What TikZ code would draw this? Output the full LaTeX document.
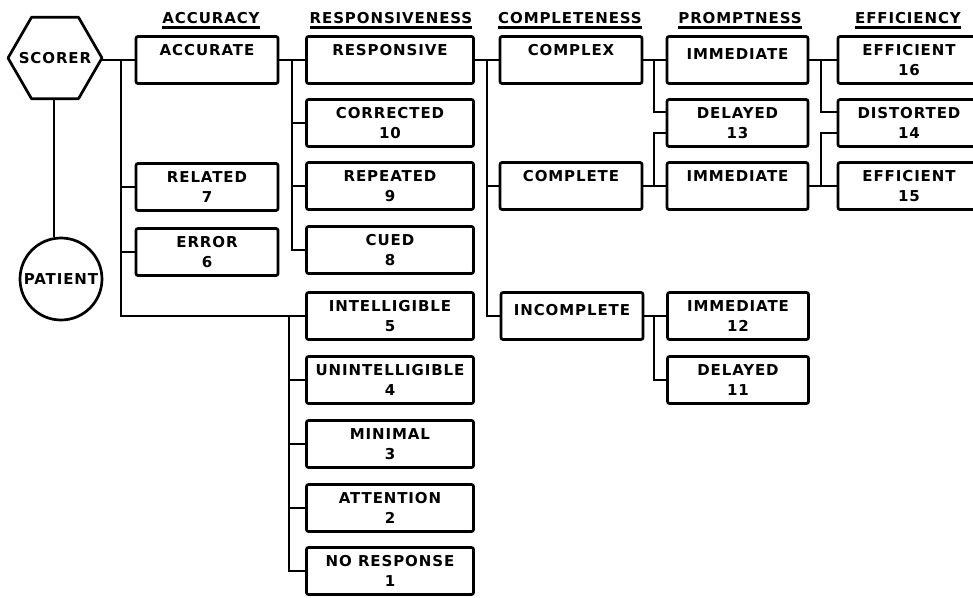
\documentclass[tikz,border=0pt]{standalone}
\usepackage{fontspec}
\newfontfamily\lbl{DejaVu Sans}[LetterSpace=6]
\begin{document}
\begin{tikzpicture}[x=1pt,y=-1pt,
  lblfont/.style={font=\lbl\bfseries\fontsize{15}{20}\selectfont},
  bx/.style={draw, line width=2.7pt, rounded corners=2pt, minimum height=47pt,
    inner sep=0pt, align=center, lblfont},
  bA/.style={bx, minimum width=142pt},
  bR/.style={bx, minimum width=167pt},
  bC/.style={bx, minimum width=142pt},
  bP/.style={bx, minimum width=141pt},
  bE/.style={bx, minimum width=142pt},
  wire/.style={line width=2.3pt},
  hd/.style={lblfont, inner sep=0pt, anchor=base},
  uline/.style={line width=2.4pt},
  outline/.style={line width=2.7pt, line join=round}
]
\useasboundingbox (0,0) rectangle (973,597);

% headers
\node[hd] (hacc) at (211,23) {ACCURACY};
\node[hd] (hres) at (391,23) {RESPONSIVENESS};
\node[hd] (hcom) at (570,23) {COMPLETENESS};
\node[hd] (hpro) at (740,23) {PROMPTNESS};
\node[hd] (heff) at (908,23) {EFFICIENCY};
\foreach \h in {hacc,hres,hcom,hpro,heff}
  \draw[uline] ([yshift=-4.5pt]\h.base west) -- ([yshift=-4.5pt]\h.base east);

% scorer (hexagon) and patient (circle)
\node[lblfont, inner sep=0pt] (scorer) at (55,58) {SCORER};
\draw[outline] ([shift={(-47,0)}]scorer.center) -- ([shift={(-23.5,-40.7)}]scorer.center)
  -- ([shift={(23.5,-40.7)}]scorer.center) -- ([shift={(47,0)}]scorer.center)
  -- ([shift={(23.5,40.7)}]scorer.center) -- ([shift={(-23.5,40.7)}]scorer.center) -- cycle;
\coordinate (sE) at ([shift={(47,0)}]scorer.center);
\coordinate (sS) at ([shift={(-1,40.7)}]scorer.center);
\node[draw, circle, minimum size=82pt, inner sep=0pt, line width=2.7pt,
  lblfont] (pat) at (61,279) {PATIENT};

% accuracy
\node[bA] (acc) at (207,60) {ACCURATE\\\phantom{1}};
\node[bA] (rel) at (207,187) {RELATED\\7};
\node[bA] (err) at (207,252) {ERROR\\6};

% responsiveness
\node[bR] (resp)  at (390,60)  {RESPONSIVE\\\phantom{1}};
\node[bR] (corr)  at (390,123) {CORRECTED\\10};
\node[bR] (rep)   at (390,186) {REPEATED\\9};
\node[bR] (cued)  at (390,250) {CUED\\8};
\node[bR] (intel) at (390,316) {INTELLIGIBLE\\5};
\node[bR] (unint) at (390,380) {UNINTELLIGIBLE\\4};
\node[bR] (mini)  at (390,444) {MINIMAL\\3};
\node[bR] (att)   at (390,508) {ATTENTION\\2};
\node[bR] (nores) at (390,571) {NO RESPONSE\\1};

% completeness
\node[bC] (cplx) at (571,60)  {COMPLEX\\\phantom{1}};
\node[bC] (cplt) at (571,186) {COMPLETE\\\phantom{1}};
\node[bC] (incp) at (572,316) {INCOMPLETE\\[-8pt]\phantom{1}};

% promptness
\node[bP] (imm1)  at (737.5,60)  {IMMEDIATE\\[-8pt]\phantom{1}};
\node[bP] (del13) at (737.5,123) {DELAYED\\13};
\node[bP] (imm2)  at (737.5,186) {IMMEDIATE\\\phantom{1}};
\node[bP] (imm12) at (738,316)   {IMMEDIATE\\12};
\node[bP] (del11) at (738,380)   {DELAYED\\11};

% efficiency
\node[bE] (eff16) at (909,60)  {EFFICIENT\\16};
\node[bE] (dis14) at (909,123) {DISTORTED\\14};
\node[bE] (eff15) at (909,186) {EFFICIENT\\15};

% trunk columns
\coordinate (t1) at (121,0);
\coordinate (t2) at (289,0);
\coordinate (t3) at (292,0);
\coordinate (t4) at (487,0);
\coordinate (t5) at (654,0);
\coordinate (t6) at (821,0);

% connectors
\draw[wire] (sS) -- (sS |- pat.north);
\draw[wire] (sE |- acc.west) -- (acc.west);
\draw[wire] (acc.west -| t1) -- (intel.west -| t1) -- (intel.west);
\draw[wire] (rel.west -| t1) -- (rel.west);
\draw[wire] (err.west -| t1) -- (err.west);

\draw[wire] (intel.west -| t2) -- (nores.west -| t2) -- (nores.west);
\foreach \n in {unint,mini,att} \draw[wire] (\n.west -| t2) -- (\n.west);

\draw[wire] (acc.east) -- (resp.west);
\draw[wire] (acc.east -| t3) -- (cued.west -| t3) -- (cued.west);
\foreach \n in {corr,rep} \draw[wire] (\n.west -| t3) -- (\n.west);

\draw[wire] (resp.east) -- (cplx.west);
\draw[wire] (resp.east -| t4) -- (incp.west -| t4) -- (incp.west);
\draw[wire] (cplt.west -| t4) -- (cplt.west);

\draw[wire] (cplx.east) -- (imm1.west);
\draw[wire] (cplx.east -| t5) |- ([yshift=11pt]del13.west);
\draw[wire] (cplt.east) -- (imm2.west);
\draw[wire] (cplt.east -| t5) |- ([yshift=-10pt]del13.west);
\draw[wire] (incp.east) -- (imm12.west);
\draw[wire] (incp.east -| t5) |- (del11.west);

\draw[wire] (imm1.east) -- (eff16.west);
\draw[wire] (imm1.east -| t6) |- ([yshift=11pt]dis14.west);
\draw[wire] (imm2.east) -- (eff15.west);
\draw[wire] (imm2.east -| t6) |- ([yshift=-10pt]dis14.west);
\end{tikzpicture}
\end{document}
